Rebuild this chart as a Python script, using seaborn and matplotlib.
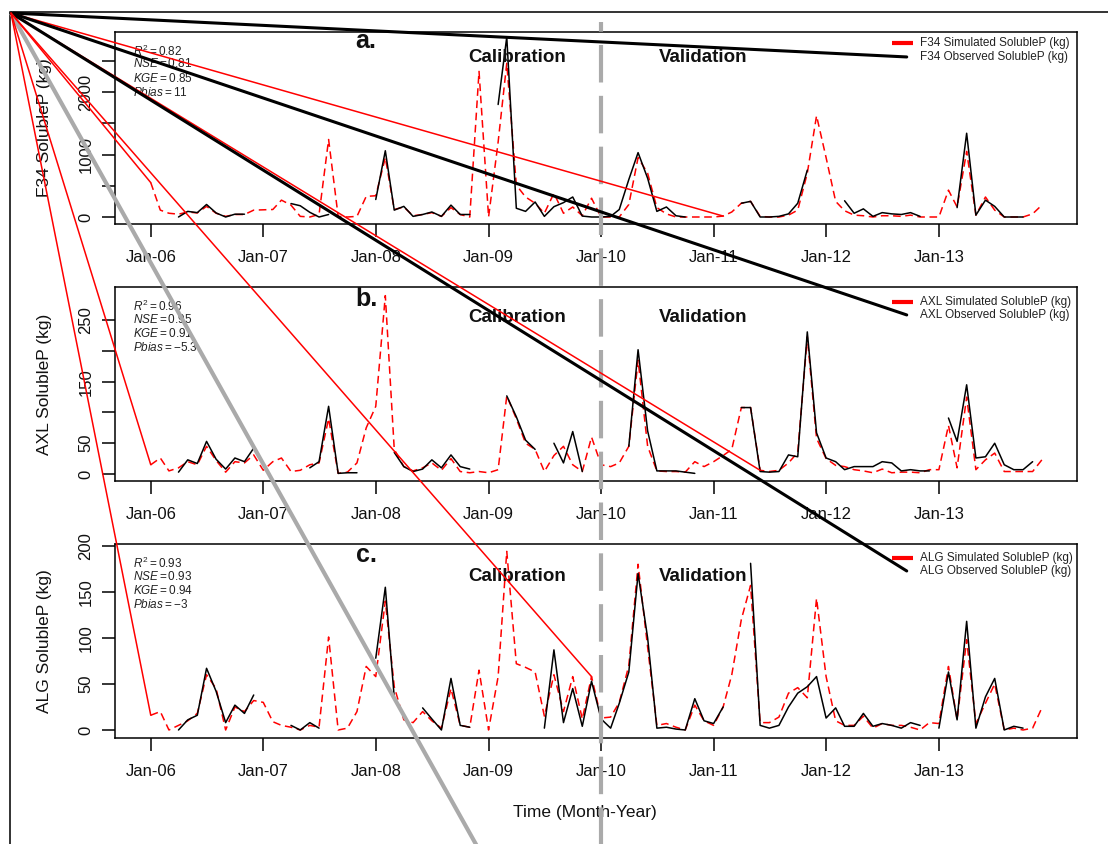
import numpy as np
import pandas as pd
import matplotlib
matplotlib.use("Agg")
import matplotlib.pyplot as plt
import matplotlib.dates as mdates
import matplotlib.transforms as mtransforms
from matplotlib.patches import ConnectionPatch
from matplotlib.lines import Line2D
import seaborn as sns

# ---------------------------------------------------------------- data
months = pd.date_range("2006-01-01", periods=96, freq="MS")
year_ticks = pd.date_range("2006-01-01", "2013-01-01", freq="YS")
year_labels = ["Jan-06", "Jan-07", "Jan-08", "Jan-09", "Jan-10", "Jan-11", "Jan-12", "Jan-13"]
split_date = pd.Timestamp("2010-01-01")
N = None

f34_sim = [550, 110, 60, 45, 80, 65, 170, 60, 10, 40, 40, 110,
           115, 120, 270, 190, 10, 0, 40, 1240, 10, 0, 10, 330,
           340, 950, 120, 160, 20, 40, 70, 10, 150, 40, 0, 2330,
           0, 1200, 2460, 510, 320, 220, 60, 380, 60, 160, 20, 300,
           0, 0, 0, 200, 950, 700, 150, 50, 0, 0, 0, 0,
           0, 15, 80, 220, 250, 10, 0, 0, 30, 110, 700, 1620,
           950, 250, 100, 30, 20, 0, 20, 20, 10, 30, 0, 0,
           0, 430, 160, 1050, 30, 320, 110, 0, 0, 0, 50, 190]
f34_obs = [N, N, N, 0, 90, 70, 200, 65, 0, 45, 45, N,
           N, N, N, 215, 180, 75, 0, 40, N, N, N, N,
           280, 1060, 110, 170, 10, 40, 80, 10, 190, 40, 40, N,
           N, 1800, 2880, 140, 90, 240, 10, 165, 230, 320, 15, 0,
           0, 10, 120, 600, 1030, 620, 90, 160, 20, 0, N, N,
           N, N, N, 220, 250, 0, 0, 10, 50, 220, 750, N,
           N, N, 260, 60, 130, 10, 70, 50, 40, 70, 10, N,
           N, N, 150, 1340, 30, 270, 170, 0, 0, 0, N, N]

axl_sim = [15, 26, 5, 10, 20, 15, 45, 22, 3, 20, 18, 31,
           6, 20, 26, 4, 6, 15, 18, 90, 1, 3, 18, 75,
           110, 290, 40, 12, 5, 10, 18, 6, 25, 4, 2, 4,
           2, 7, 127, 90, 50, 40, 4, 30, 45, 15, 4, 60,
           15, 12, 18, 45, 185, 45, 5, 4, 4, 3, 20, 12,
           20, 30, 40, 108, 108, 6, 4, 6, 18, 35, 223, 58,
           25, 14, 12, 7, 5, 2, 8, 2, 3, 3, 2, 7,
           7, 79, 10, 125, 7, 23, 34, 4, 4, 4, 4, 23]
axl_obs = [N, N, N, 3, 23, 17, 53, 24, 8, 26, 20, 42,
           N, N, N, N, N, 10, 20, 110, 1, 2, 2, N,
           N, N, 35, 12, 4, 8, 23, 10, 31, 12, 8, N,
           N, N, 127, 93, 55, 40, N, 50, 18, 69, 4, N,
           N, N, N, 45, 202, 70, 5, 5, 5, 3, 1, N,
           N, N, N, 108, 108, 4, 3, 4, 31, 28, 231, 67,
           26, 20, 7, 12, 12, 12, 20, 18, 5, 7, 5, 5,
           N, 91, 53, 145, 26, 28, 50, 15, 7, 7, 20, N]

alg_sim = [16, 20, 0, 5, 10, 18, 60, 45, 0, 25, 20, 32,
           30, 9, 5, 3, 0, 5, 3, 101, 0, 2, 20, 69,
           58, 140, 47, 11, 8, 20, 10, 2, 45, 5, 3, 65,
           0, 58, 194, 72, 68, 63, 15, 60, 20, 58, 12, 58,
           13, 14, 30, 70, 180, 90, 5, 7, 3, 0, 27, 10,
           5, 25, 60, 120, 157, 8, 8, 14, 40, 46, 35, 143,
           58, 10, 5, 5, 15, 2, 7, 5, 5, 3, 0, 8,
           7, 69, 11, 98, 7, 29, 50, 0, 2, 0, 2, 24]
alg_obs = [N, N, N, 0, 11, 16, 67, 42, 8, 27, 18, 38,
           N, N, N, 5, 0, 8, 2, N, N, N, N, N,
           78, 155, 35, N, N, 24, 12, 0, 56, 5, 3, N,
           N, N, N, N, N, N, 2, 87, 8, 45, 4, 53,
           12, 2, 29, 63, 170, 100, 2, 3, 1, 0, 34, 10,
           7, 25, N, N, 181, 5, 2, 5, 25, 40, 47, 58,
           13, 24, 4, 4, 18, 4, 7, 5, 2, 8, 5, N,
           2, 63, 11, 118, 2, 36, 56, 0, 4, 2, N, N]

sites = ["F34", "AXL", "ALG"]
panel_tags = ["a.", "b.", "c."]
sim_series = [f34_sim, axl_sim, alg_sim]
obs_series = [f34_obs, axl_obs, alg_obs]
stats = [["0.82", "0.81", "0.85", "11"],
         ["0.96", "0.95", "0.91", "-5.3"],
         ["0.93", "0.93", "0.94", "-3"]]
# months where a simulated trace starts a new path
sim_path_starts = [[0, 61], [0, 65], [0, 47]]
y_ticks = [[0, 500, 1000, 1500, 2000, 2500],
           [0, 50, 100, 150, 200, 250],
           [0, 50, 100, 150, 200]]
y_ticklabels = [["0", "", "1000", "", "2000", ""],
                ["0", "50", "", "150", "", "250"],
                ["0", "50", "100", "150", "200"]]
y_limits = [(-112, 2960), (-11.4, 304), (-8.7, 202)]

# ---------------------------------------------------------------- style
sns.set_theme(style="ticks")
plt.rcParams["font.family"] = ["Liberation Sans", "DejaVu Sans"]
plt.rcParams["mathtext.fontset"] = "custom"
plt.rcParams["mathtext.it"] = "Liberation Sans:italic"
plt.rcParams["mathtext.rm"] = "Liberation Sans"
plt.rcParams["mathtext.bf"] = "Liberation Sans:bold"

W, H = 1108, 844
fig = plt.figure(figsize=(W / 100, H / 100), dpi=100)
fig.patch.set_facecolor("white")

panel_boxes = [(115, 32, 1077, 224), (115, 287, 1077, 481), (115, 544, 1077, 738)]
x_lo = pd.Timestamp("2005-09-07")
x_hi = pd.Timestamp("2014-03-25")

tag_y = [0.915, 0.9, 0.905]
period_y = [0.867, 0.843, 0.832]
leg_sim_y = [0.943, 0.923, 0.928]
leg_obs_y = [0.870, 0.856, 0.861]
stat_y = [0.898, 0.835, 0.76, 0.687]

corner = (11 / W, 1 - 13 / H)


def to_frame(values):
    v = pd.Series(values, dtype=float)
    seg = v.isna().cumsum()
    df = pd.DataFrame({"date": months, "value": v, "seg": seg})
    return df.dropna()


axes = []
for i, site in enumerate(sites):
    l, t, r, b = panel_boxes[i]
    ax = fig.add_axes([l / W, 1 - b / H, (r - l) / W, (b - t) / H])
    axes.append(ax)

    sim_df = to_frame(sim_series[i])
    obs_df = to_frame(obs_series[i])
    sns.lineplot(data=sim_df, x="date", y="value", units="seg", estimator=None,
                 color="#ff0000", linewidth=1.1, linestyle=(0, (5, 3)),
                 legend=False, ax=ax)
    sns.lineplot(data=obs_df, x="date", y="value", units="seg", estimator=None,
                 color="black", linewidth=1.1, legend=False, ax=ax)

    ax.set_xlim(x_lo, x_hi)
    ax.set_ylim(*y_limits[i])
    ax.set_xticks(year_ticks)
    ax.set_xticklabels(year_labels)
    ax.set_yticks(y_ticks[i])
    ax.set_yticklabels(y_ticklabels[i], rotation=90, va="center")
    ax.set_xlabel("")
    ax.set_ylabel("")
    ax.tick_params(axis="both", direction="out", length=9.4, width=1.1,
                   color="black", labelsize=12, labelcolor="#111111")
    ax.tick_params(axis="x", pad=9)
    ax.tick_params(axis="y", pad=6)
    for sp in ax.spines.values():
        sp.set_visible(True)
        sp.set_color("black")
        sp.set_linewidth(1.1)
    ax.set_facecolor("none")

    ax.text(-0.0728, 0.5, f"{site} SolubleP (kg)", transform=ax.transAxes,
            rotation=90, ha="center", va="center", fontsize=12.5, color="#111111")

    # goodness-of-fit block
    r2, nse, kge, pb = stats[i]
    lines = [rf"$R^2 = {r2}$", rf"$NSE = {nse}$", rf"$KGE = {kge}$", rf"$Pbias = {pb}$"]
    for txt, yy in zip(lines, stat_y):
        ax.text(0.0187, yy, txt, transform=ax.transAxes, ha="left", va="center",
                fontsize=8.5, color="#222222")

    ax.text(0.261, tag_y[i], panel_tags[i], transform=ax.transAxes, ha="center",
            va="baseline", fontsize=18, fontweight="bold", color="#111111")
    ax.text(0.418, period_y[i], "Calibration", transform=ax.transAxes, ha="center",
            va="center", fontsize=13.5, fontweight="bold", color="#111111")
    ax.text(0.611, period_y[i], "Validation", transform=ax.transAxes, ha="center",
            va="center", fontsize=13.5, fontweight="bold", color="#111111")

    # legend
    ax.plot([0.808, 0.830], [leg_sim_y[i]] * 2, transform=ax.transAxes,
            color="#ff0000", linewidth=3, solid_capstyle="butt", clip_on=False)
    ax.text(0.837, leg_sim_y[i], f"{site} Simulated SolubleP (kg)", transform=ax.transAxes,
            ha="left", va="center", fontsize=8.5, color="#222222")
    ax.text(0.837, leg_obs_y[i], f"{site} Observed SolubleP (kg)", transform=ax.transAxes,
            ha="left", va="center", fontsize=8.5, color="#222222")

fig.text(585 / W, 1 - 813 / H, "Time (Month-Year)", ha="center", va="center",
         fontsize=12.5, color="#111111")

# ---------------------------------------------------------------- overlay strokes
# outer frame (top and left edges)
frame_kw = dict(color="#333333", linewidth=1.4, transform=fig.transFigure)
fig.add_artist(Line2D([10 / W, 1.0], [1 - 12 / H, 1 - 12 / H], **frame_kw))
fig.add_artist(Line2D([10 / W, 10 / W], [1 - 12 / H, 0.0], **frame_kw))

# calibration / validation divider
split_num = mdates.date2num(split_date)
blend = mtransforms.blended_transform_factory(axes[0].transData, fig.transFigure)
div_top, div_bottom = 1 - 22 / H, 1 - 1068 / H
fig.add_artist(Line2D([split_num, split_num], [div_bottom, div_top], transform=blend,
                      color="#aaaaaa", linewidth=3, linestyle=(0, (9, 3.2)), zorder=5))
fig.add_artist(ConnectionPatch(xyA=corner, coordsA=fig.transFigure,
                               xyB=(split_num, div_bottom), coordsB=blend,
                               color="#aaaaaa", linewidth=3, zorder=5))

for i, ax in enumerate(axes):
    # observed legend stroke
    fig.add_artist(ConnectionPatch(xyA=corner, coordsA=fig.transFigure,
                                   xyB=(0.823, leg_obs_y[i]), coordsB=ax.transAxes,
                                   color="black", linewidth=2.2, zorder=6))
    # simulated path starts
    for k in sim_path_starts[i]:
        xb = mdates.date2num(months[k])
        fig.add_artist(ConnectionPatch(xyA=corner, coordsA=fig.transFigure,
                                       xyB=(xb, sim_series[i][k]), coordsB=ax.transData,
                                       color="#ff0000", linewidth=1.1, zorder=6))

fig.savefig("out.png", dpi=100, facecolor="white")
